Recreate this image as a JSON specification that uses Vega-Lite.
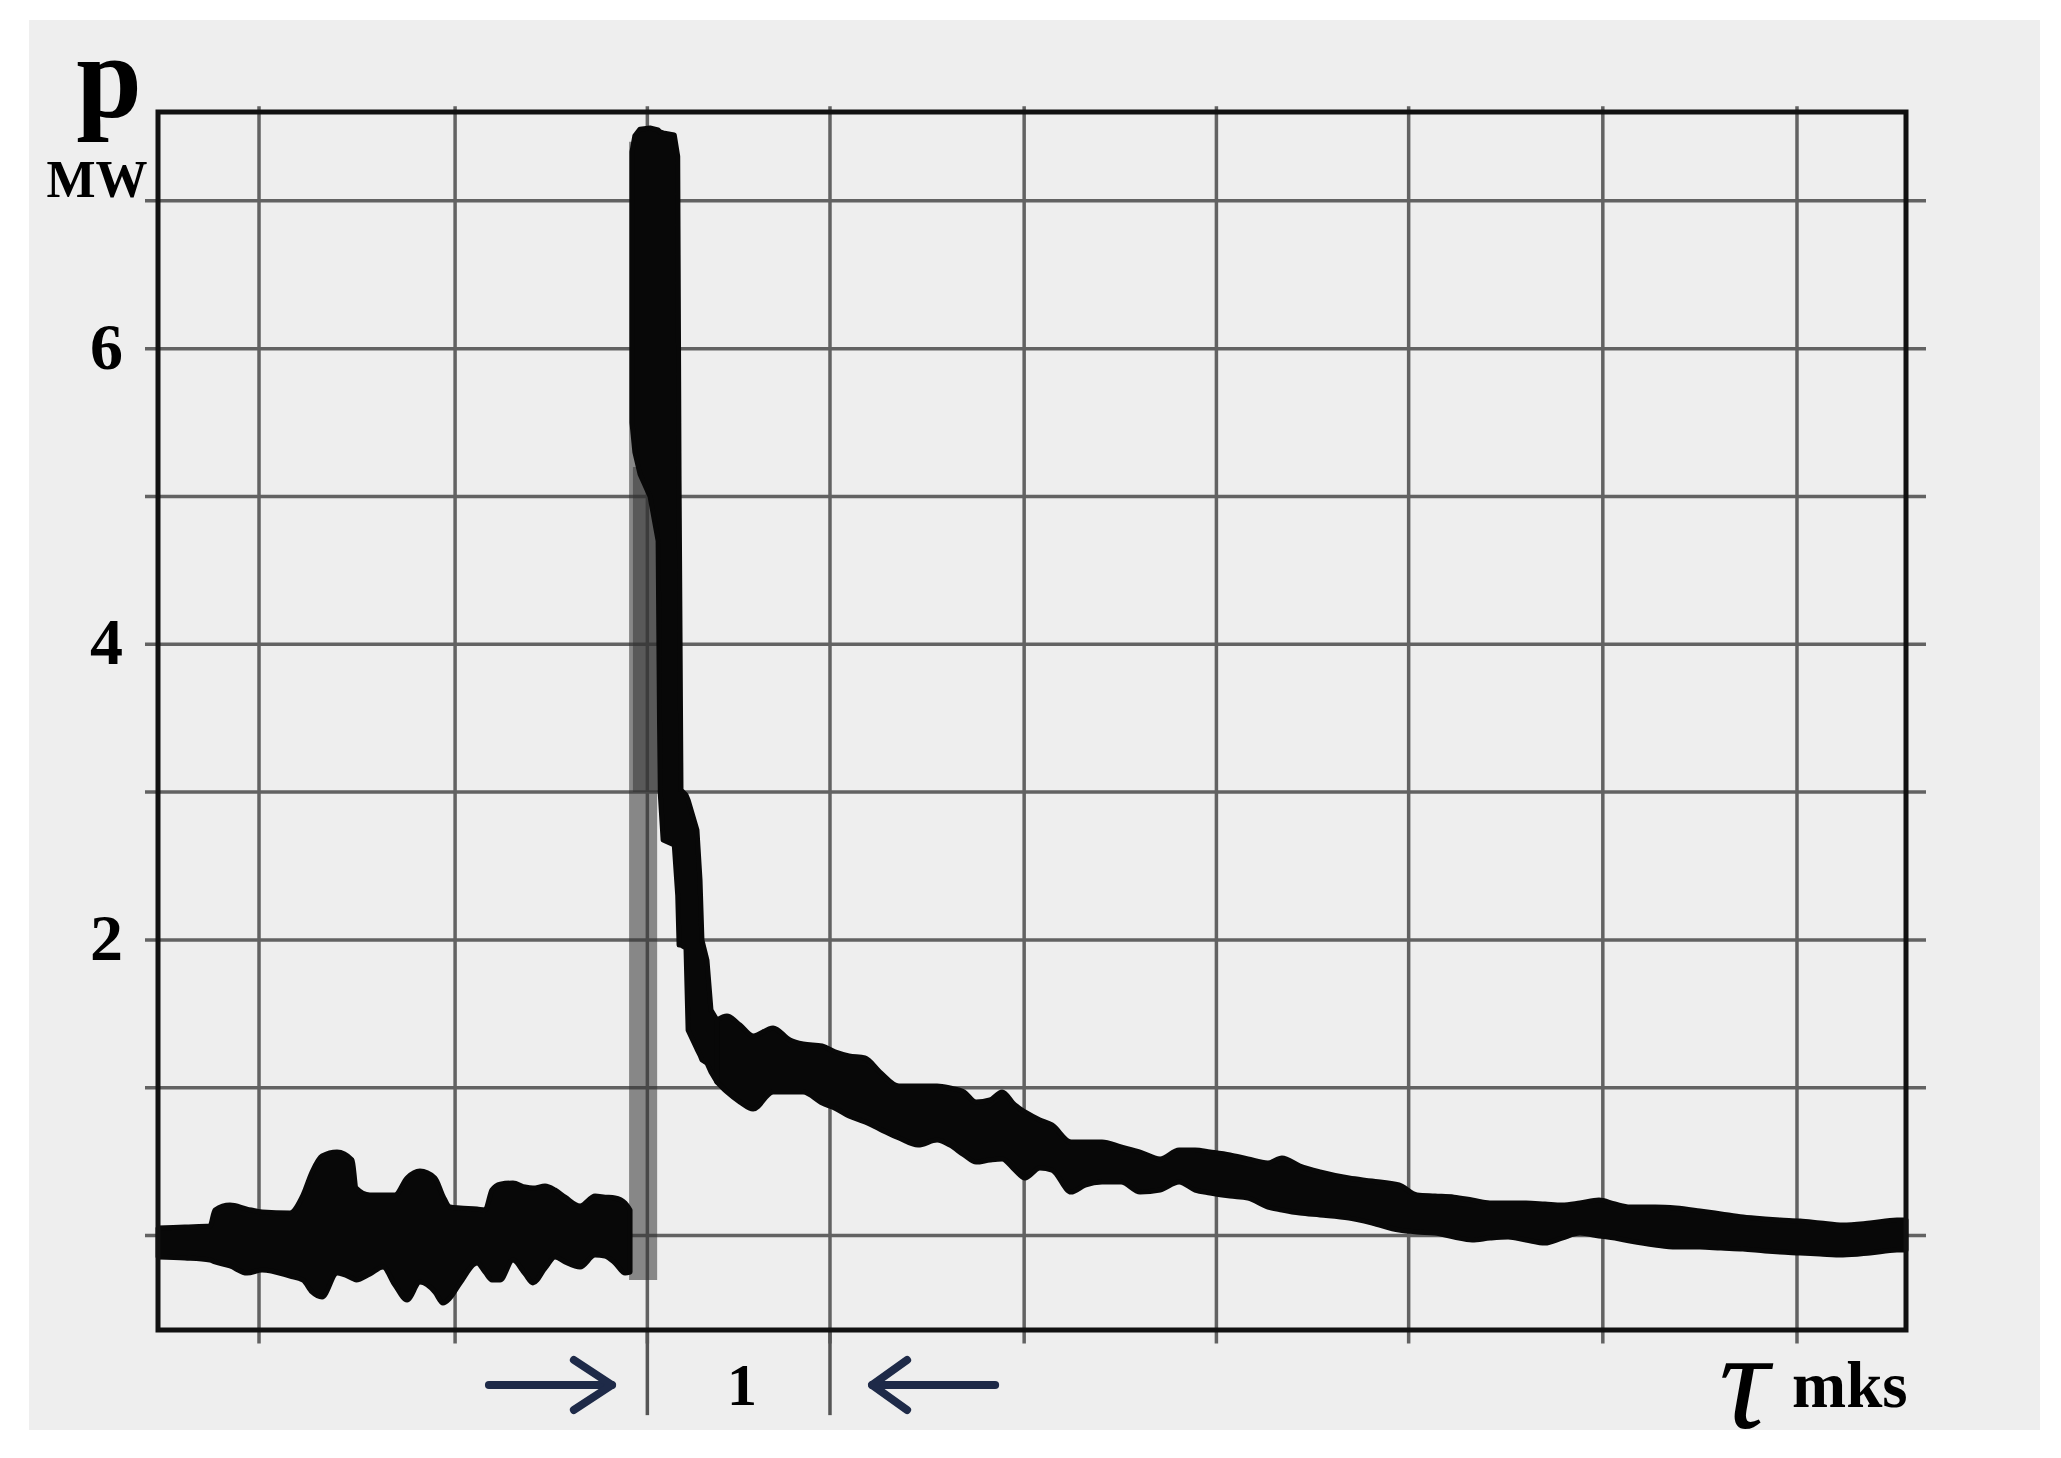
{
  "$schema": "https://vega.github.io/schema/vega-lite/v6.json",
  "width": 1748,
  "height": 1218,
  "autosize": {"type": "none"},
  "padding": {"left": 158, "top": 112, "right": 155, "bottom": 128},
  "background": "white",
  "config": {"view": {"stroke": null, "fill": null}, "font": "Liberation Serif"},
  "datasets": {
    "trace": [
      {"seg":"a","t":0.475,"hi":0.051,"lo":-0.145},
      {"seg":"a","t":0.615,"hi":0.058,"lo":-0.152},
      {"seg":"a","t":0.745,"hi":0.064,"lo":-0.166},
      {"seg":"a","t":0.771,"hi":0.173,"lo":-0.179},
      {"seg":"a","t":0.849,"hi":0.206,"lo":-0.206},
      {"seg":"a","t":0.938,"hi":0.179,"lo":-0.254},
      {"seg":"a","t":1.016,"hi":0.159,"lo":-0.233},
      {"seg":"a","t":1.161,"hi":0.152,"lo":-0.274},
      {"seg":"a","t":1.229,"hi":0.274,"lo":-0.301},
      {"seg":"a","t":1.276,"hi":0.430,"lo":-0.382},
      {"seg":"a","t":1.328,"hi":0.538,"lo":-0.416},
      {"seg":"a","t":1.406,"hi":0.565,"lo":-0.254},
      {"seg":"a","t":1.484,"hi":0.511,"lo":-0.288},
      {"seg":"a","t":1.505,"hi":0.321,"lo":-0.301},
      {"seg":"a","t":1.577,"hi":0.274,"lo":-0.260},
      {"seg":"a","t":1.645,"hi":0.274,"lo":-0.213},
      {"seg":"a","t":1.707,"hi":0.274,"lo":-0.335},
      {"seg":"a","t":1.770,"hi":0.389,"lo":-0.436},
      {"seg":"a","t":1.837,"hi":0.436,"lo":-0.315},
      {"seg":"a","t":1.915,"hi":0.389,"lo":-0.382},
      {"seg":"a","t":1.957,"hi":0.267,"lo":-0.457},
      {"seg":"a","t":1.993,"hi":0.193,"lo":-0.423},
      {"seg":"a","t":2.046,"hi":0.186,"lo":-0.321},
      {"seg":"a","t":2.134,"hi":0.179,"lo":-0.186},
      {"seg":"a","t":2.176,"hi":0.173,"lo":-0.247},
      {"seg":"a","t":2.212,"hi":0.308,"lo":-0.301},
      {"seg":"a","t":2.254,"hi":0.348,"lo":-0.301},
      {"seg":"a","t":2.321,"hi":0.355,"lo":-0.166},
      {"seg":"a","t":2.384,"hi":0.328,"lo":-0.260},
      {"seg":"a","t":2.425,"hi":0.321,"lo":-0.321},
      {"seg":"a","t":2.488,"hi":0.335,"lo":-0.220},
      {"seg":"a","t":2.540,"hi":0.308,"lo":-0.145},
      {"seg":"a","t":2.592,"hi":0.260,"lo":-0.179},
      {"seg":"a","t":2.670,"hi":0.200,"lo":-0.213},
      {"seg":"a","t":2.748,"hi":0.267,"lo":-0.132},
      {"seg":"a","t":2.800,"hi":0.260,"lo":-0.139},
      {"seg":"a","t":2.852,"hi":0.254,"lo":-0.186},
      {"seg":"a","t":2.904,"hi":0.220,"lo":-0.254},
      {"seg":"a","t":2.930,"hi":0.173,"lo":-0.247},
      {"seg":"r","t":2.925,"hi":7.400,"lo":-0.300},
      {"seg":"r","t":3.071,"hi":7.400,"lo":-0.300},
      {"seg":"r2","t":2.945,"hi":5.200,"lo":3.000},
      {"seg":"r2","t":3.076,"hi":5.200,"lo":3.000},
      {"seg":"s","t":2.940,"hi":7.330,"lo":5.500},
      {"seg":"s","t":2.955,"hi":7.440,"lo":5.300},
      {"seg":"s","t":2.982,"hi":7.485,"lo":5.150},
      {"seg":"s","t":3.034,"hi":7.493,"lo":5.000},
      {"seg":"s","t":3.076,"hi":7.480,"lo":4.700},
      {"seg":"s","t":3.086,"hi":7.466,"lo":3.014},
      {"seg":"s","t":3.102,"hi":7.459,"lo":2.676},
      {"seg":"s","t":3.160,"hi":7.446,"lo":2.642},
      {"seg":"s","t":3.178,"hi":7.300,"lo":2.300},
      {"seg":"s","t":3.185,"hi":5.112,"lo":1.965},
      {"seg":"s","t":3.195,"hi":3.014,"lo":1.965},
      {"seg":"s","t":3.221,"hi":2.980,"lo":1.945},
      {"seg":"s","t":3.232,"hi":2.947,"lo":1.390},
      {"seg":"s","t":3.278,"hi":2.744,"lo":1.262},
      {"seg":"s","t":3.294,"hi":2.405,"lo":1.221},
      {"seg":"s","t":3.304,"hi":1.999,"lo":1.188},
      {"seg":"s","t":3.330,"hi":1.864,"lo":1.167},
      {"seg":"s","t":3.351,"hi":1.526,"lo":1.106},
      {"seg":"s","t":3.382,"hi":1.458,"lo":1.039},
      {"seg":"d","t":3.382,"hi":1.458,"lo":1.039},
      {"seg":"d","t":3.434,"hi":1.485,"lo":0.971},
      {"seg":"d","t":3.502,"hi":1.424,"lo":0.903},
      {"seg":"d","t":3.570,"hi":1.350,"lo":0.856},
      {"seg":"d","t":3.674,"hi":1.404,"lo":0.971},
      {"seg":"d","t":3.762,"hi":1.323,"lo":0.971},
      {"seg":"d","t":3.830,"hi":1.296,"lo":0.971},
      {"seg":"d","t":3.929,"hi":1.282,"lo":0.896},
      {"seg":"d","t":3.996,"hi":1.242,"lo":0.862},
      {"seg":"d","t":4.069,"hi":1.215,"lo":0.808},
      {"seg":"d","t":4.152,"hi":1.201,"lo":0.768},
      {"seg":"d","t":4.230,"hi":1.106,"lo":0.720},
      {"seg":"d","t":4.329,"hi":1.011,"lo":0.660},
      {"seg":"d","t":4.428,"hi":1.011,"lo":0.612},
      {"seg":"d","t":4.527,"hi":1.011,"lo":0.646},
      {"seg":"d","t":4.594,"hi":0.998,"lo":0.612},
      {"seg":"d","t":4.667,"hi":0.971,"lo":0.545},
      {"seg":"d","t":4.730,"hi":0.903,"lo":0.497},
      {"seg":"d","t":4.802,"hi":0.917,"lo":0.511},
      {"seg":"d","t":4.865,"hi":0.971,"lo":0.518},
      {"seg":"d","t":4.932,"hi":0.883,"lo":0.443},
      {"seg":"d","t":4.984,"hi":0.836,"lo":0.389},
      {"seg":"d","t":5.062,"hi":0.782,"lo":0.457},
      {"seg":"d","t":5.125,"hi":0.748,"lo":0.443},
      {"seg":"d","t":5.224,"hi":0.633,"lo":0.294},
      {"seg":"d","t":5.297,"hi":0.633,"lo":0.341},
      {"seg":"d","t":5.385,"hi":0.633,"lo":0.362},
      {"seg":"d","t":5.484,"hi":0.599,"lo":0.362},
      {"seg":"d","t":5.583,"hi":0.565,"lo":0.294},
      {"seg":"d","t":5.687,"hi":0.518,"lo":0.308},
      {"seg":"d","t":5.786,"hi":0.578,"lo":0.362},
      {"seg":"d","t":5.869,"hi":0.578,"lo":0.308},
      {"seg":"d","t":5.947,"hi":0.565,"lo":0.288},
      {"seg":"d","t":6.051,"hi":0.545,"lo":0.267},
      {"seg":"d","t":6.144,"hi":0.518,"lo":0.254},
      {"seg":"d","t":6.248,"hi":0.491,"lo":0.193},
      {"seg":"d","t":6.321,"hi":0.524,"lo":0.173},
      {"seg":"d","t":6.415,"hi":0.470,"lo":0.152},
      {"seg":"d","t":6.519,"hi":0.430,"lo":0.139},
      {"seg":"d","t":6.670,"hi":0.389,"lo":0.118},
      {"seg":"d","t":6.789,"hi":0.369,"lo":0.085},
      {"seg":"d","t":6.930,"hi":0.342,"lo":0.037},
      {"seg":"d","t":7.024,"hi":0.274,"lo":0.024},
      {"seg":"d","t":7.117,"hi":0.267,"lo":0.017},
      {"seg":"d","t":7.216,"hi":0.260,"lo":-0.010},
      {"seg":"d","t":7.310,"hi":0.240,"lo":-0.030},
      {"seg":"d","t":7.403,"hi":0.220,"lo":-0.017},
      {"seg":"d","t":7.497,"hi":0.220,"lo":-0.010},
      {"seg":"d","t":7.590,"hi":0.220,"lo":-0.030},
      {"seg":"d","t":7.689,"hi":0.213,"lo":-0.051},
      {"seg":"d","t":7.778,"hi":0.206,"lo":-0.017},
      {"seg":"d","t":7.871,"hi":0.220,"lo":0.017},
      {"seg":"d","t":7.970,"hi":0.240,"lo":-0.003},
      {"seg":"d","t":8.053,"hi":0.213,"lo":-0.017},
      {"seg":"d","t":8.131,"hi":0.193,"lo":-0.037},
      {"seg":"d","t":8.261,"hi":0.193,"lo":-0.064},
      {"seg":"d","t":8.371,"hi":0.186,"lo":-0.078},
      {"seg":"d","t":8.495,"hi":0.166,"lo":-0.078},
      {"seg":"d","t":8.605,"hi":0.146,"lo":-0.085},
      {"seg":"d","t":8.719,"hi":0.125,"lo":-0.091},
      {"seg":"d","t":8.834,"hi":0.112,"lo":-0.105},
      {"seg":"d","t":8.912,"hi":0.105,"lo":-0.112},
      {"seg":"d","t":9.016,"hi":0.098,"lo":-0.118},
      {"seg":"d","t":9.120,"hi":0.085,"lo":-0.125},
      {"seg":"d","t":9.239,"hi":0.071,"lo":-0.132},
      {"seg":"d","t":9.380,"hi":0.085,"lo":-0.118},
      {"seg":"d","t":9.520,"hi":0.105,"lo":-0.098},
      {"seg":"d","t":9.567,"hi":0.105,"lo":-0.098}
    ],
    "vgrid": [{"t":1},{"t":2.02},{"t":3.02},{"t":3.97},{"t":4.98},{"t":5.98},{"t":6.98},{"t":7.99},{"t":9.0}],
    "hgrid": [{"v":0},{"v":1},{"v":2},{"v":3},{"v":4},{"v":5},{"v":6},{"v":7}],
    "interval": [{"t":3.02},{"t":3.97}],
    "arrows": [
      {"part":"R shaft","o":1,"t":2.196,"v":-1.011},
      {"part":"R shaft","o":2,"t":2.836,"v":-1.011},
      {"part":"R head","o":1,"t":2.638,"v":-0.842},
      {"part":"R head","o":2,"t":2.836,"v":-1.011},
      {"part":"R head","o":3,"t":2.638,"v":-1.180},
      {"part":"L shaft","o":1,"t":4.189,"v":-1.011},
      {"part":"L shaft","o":2,"t":4.829,"v":-1.011},
      {"part":"L head","o":1,"t":4.371,"v":-0.842},
      {"part":"L head","o":2,"t":4.189,"v":-1.011},
      {"part":"L head","o":3,"t":4.371,"v":-1.180}
    ]
  },
  "layer": [
    {
      "data": {"values": [{}]},
      "mark": {"type": "rect", "color": "#eeeeee"},
      "encoding": {
        "x": {"datum": -0.196, "type": "quantitative", "scale": {"domain": [0.4746, 9.567], "nice": false, "zero": false}, "axis": null},
        "x2": {"datum": 10.264},
        "y": {"datum": -1.316, "type": "quantitative", "scale": {"domain": [-0.639, 7.601], "nice": false, "zero": false}, "axis": null},
        "y2": {"datum": 8.224}
      }
    },
    {
      "data": {"name": "hgrid"},
      "mark": {"type": "rule", "color": "#626262", "strokeWidth": 3.5},
      "encoding": {
        "y": {"field": "v", "type": "quantitative", "axis": null},
        "x": {"datum": 0.407, "type": "quantitative", "axis": null},
        "x2": {"datum": 9.671}
      }
    },
    {
      "data": {"name": "vgrid"},
      "mark": {"type": "rule", "color": "#626262", "strokeWidth": 3.5},
      "encoding": {
        "x": {"field": "t", "type": "quantitative", "axis": null},
        "y": {"datum": -0.73, "type": "quantitative", "axis": null},
        "y2": {"datum": 7.64}
      }
    },
    {
      "data": {"name": "interval"},
      "mark": {"type": "rule", "color": "#555555", "strokeWidth": 3.5},
      "encoding": {
        "x": {"field": "t", "type": "quantitative", "axis": null},
        "y": {"datum": -1.215, "type": "quantitative", "axis": null},
        "y2": {"datum": -0.639}
      }
    },
    {
      "data": {"name": "trace"},
      "transform": [{"filter": "datum.seg == 'r' || datum.seg == 'r2'"}],
      "mark": {"type": "area", "color": "#333333", "opacity": 0.55},
      "encoding": {
        "x": {"field": "t", "type": "quantitative", "axis": null},
        "y": {"field": "hi", "type": "quantitative", "axis": null},
        "y2": {"field": "lo"},
        "detail": {"field": "seg"}
      }
    },
    {
      "data": {"name": "trace"},
      "transform": [{"filter": "datum.seg == 'a' || datum.seg == 'd'"}],
      "mark": {"type": "area", "color": "#080808", "stroke": "#080808", "strokeWidth": 5, "strokeJoin": "round", "interpolate": "monotone"},
      "encoding": {
        "x": {"field": "t", "type": "quantitative", "axis": null},
        "y": {"field": "hi", "type": "quantitative", "axis": null},
        "y2": {"field": "lo"},
        "detail": {"field": "seg"}
      }
    },
    {
      "data": {"name": "trace"},
      "transform": [{"filter": "datum.seg == 's'"}],
      "mark": {"type": "area", "color": "#080808", "stroke": "#080808", "strokeWidth": 5, "strokeJoin": "round", "interpolate": "linear"},
      "encoding": {
        "x": {"field": "t", "type": "quantitative", "axis": null},
        "y": {"field": "hi", "type": "quantitative", "axis": null},
        "y2": {"field": "lo"}
      }
    },
    {
      "data": {"values": [{}]},
      "mark": {"type": "rect", "fillOpacity": 0, "stroke": "#111111", "strokeWidth": 5},
      "encoding": {
        "x": {"datum": 0.4746, "type": "quantitative", "axis": null},
        "x2": {"datum": 9.567},
        "y": {"datum": -0.639, "type": "quantitative", "axis": null},
        "y2": {"datum": 7.601}
      }
    },
    {
      "data": {"name": "hgrid"},
      "transform": [{"filter": "datum.v == 2 || datum.v == 4 || datum.v == 6"}],
      "mark": {"type": "text", "font": "Liberation Serif", "fontWeight": "bold", "fontSize": 66, "align": "right", "baseline": "middle", "color": "black"},
      "encoding": {
        "x": {"datum": 0.2926, "type": "quantitative", "axis": null},
        "y": {"field": "v", "type": "quantitative", "axis": null},
        "text": {"field": "v", "type": "quantitative"}
      }
    },
    {
      "data": {"name": "arrows"},
      "mark": {"type": "line", "color": "#1e2a48", "strokeWidth": 8, "strokeCap": "round", "strokeJoin": "round"},
      "encoding": {
        "x": {"field": "t", "type": "quantitative", "axis": null},
        "y": {"field": "v", "type": "quantitative", "axis": null},
        "detail": {"field": "part"},
        "order": {"field": "o"}
      }
    },
    {
      "data": {"values": [{}]},
      "mark": {"type": "text", "text": "p", "font": "Liberation Serif", "fontWeight": "bold", "fontSize": 118, "align": "center", "baseline": "alphabetic", "color": "black"},
      "encoding": {"x": {"datum": 0.220, "type": "quantitative", "axis": null}, "y": {"datum": 7.568, "type": "quantitative", "axis": null}}
    },
    {
      "data": {"values": [{}]},
      "mark": {"type": "text", "text": "MW", "font": "Liberation Serif", "fontWeight": "bold", "fontSize": 52, "align": "center", "baseline": "alphabetic", "color": "black"},
      "encoding": {"x": {"datum": 0.157, "type": "quantitative", "axis": null}, "y": {"datum": 7.026, "type": "quantitative", "axis": null}}
    },
    {
      "data": {"values": [{}]},
      "mark": {"type": "text", "text": "1", "font": "Liberation Serif", "fontWeight": "bold", "fontSize": 60, "align": "center", "baseline": "alphabetic", "color": "black"},
      "encoding": {"x": {"datum": 3.512, "type": "quantitative", "axis": null}, "y": {"datum": -1.147, "type": "quantitative", "axis": null}}
    },
    {
      "data": {"values": [{}]},
      "mark": {"type": "text", "text": "τ", "font": "Liberation Serif", "fontStyle": "italic", "fontSize": 140, "align": "center", "baseline": "alphabetic", "color": "black"},
      "encoding": {"x": {"datum": 8.724, "type": "quantitative", "axis": null}, "y": {"datum": -1.300, "type": "quantitative", "axis": null}}
    },
    {
      "data": {"values": [{}]},
      "mark": {"type": "text", "text": "mks", "font": "Liberation Serif", "fontWeight": "bold", "fontSize": 65, "align": "left", "baseline": "alphabetic", "color": "black"},
      "encoding": {"x": {"datum": 8.974, "type": "quantitative", "axis": null}, "y": {"datum": -1.160, "type": "quantitative", "axis": null}}
    }
  ]
}
